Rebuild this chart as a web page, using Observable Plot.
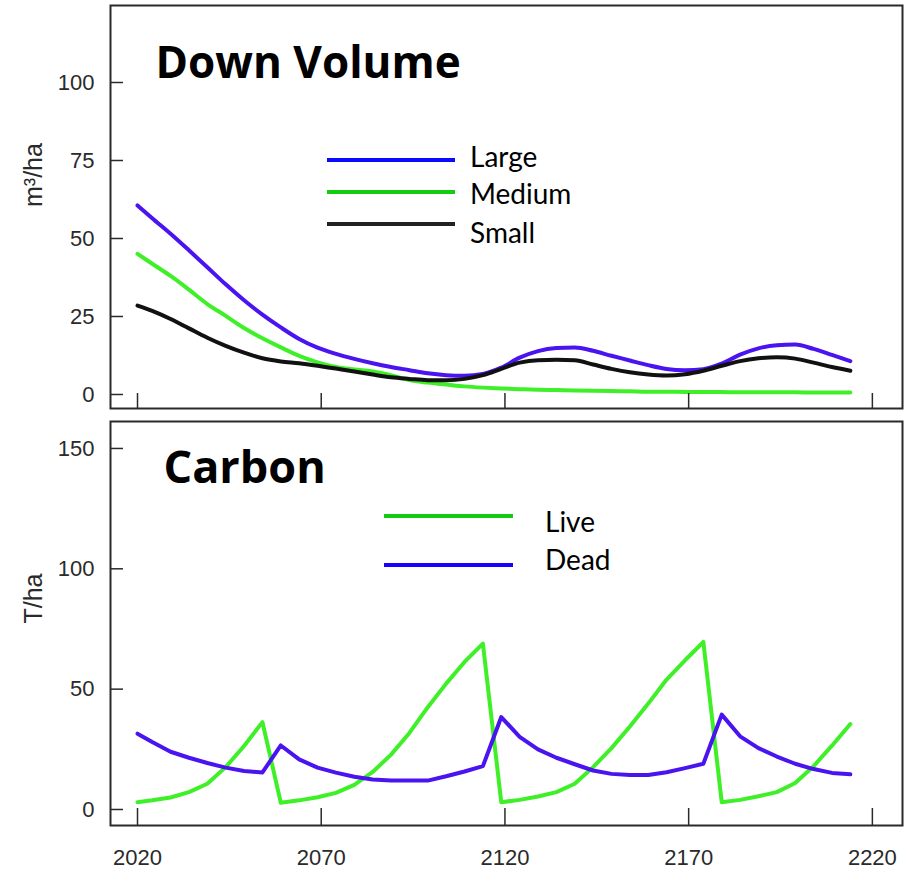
<!DOCTYPE html>
<html><head><meta charset="utf-8">
<script src="https://cdn.jsdelivr.net/npm/d3@7"></script>
<script src="https://cdn.jsdelivr.net/npm/@observablehq/plot@0.6"></script>
<style>
body{margin:0;background:#fff;}
#wrap{position:relative;width:912px;height:873px;overflow:hidden;background:#fff;}
#top{position:absolute;left:0;top:0;}
#bot{position:absolute;left:0;top:410px;}
#sep{position:absolute;left:108px;top:410px;width:796px;height:1px;background:#bbb;}
</style></head><body><div id="wrap"><div id="top"></div><div id="sep"></div><div id="bot"></div></div>
<script>
// ---------- data ----------
const years = [2020, 2024, 2029, 2034, 2039, 2044, 2049, 2054, 2059, 2064,
               2069, 2074, 2079, 2084, 2089, 2094, 2099, 2104, 2109, 2114,
               2119, 2124, 2129, 2134, 2139, 2144, 2149, 2154, 2159, 2164,
               2169, 2174, 2179, 2184, 2189, 2194, 2199, 2204, 2209, 2214];
const largeVol  = [60.6, 56.5, 51.5, 46.2, 40.8, 35.3, 30.2, 25.6, 21.5, 17.8,
                   15.0, 13.0, 11.4, 10.0, 8.8, 7.8, 6.8, 6.2, 6.0, 6.6,
                   8.6, 11.8, 13.9, 14.9, 15.1, 14.0, 12.4, 10.9, 9.4, 8.2,
                   7.8, 8.1, 9.9, 12.8, 14.8, 15.8, 16.0, 14.6, 12.7, 10.7];
const mediumVol = [45.1, 41.9, 38.0, 33.6, 29.0, 25.2, 21.3, 18.0, 15.1, 12.4,
                   10.3, 8.8, 8.0, 7.4, 6.2, 4.6, 3.8, 3.2, 2.6, 2.2,
                   1.9, 1.7, 1.5, 1.4, 1.3, 1.2, 1.1, 1.0, 0.9, 0.9,
                   0.8, 0.8, 0.8, 0.7, 0.7, 0.7, 0.7, 0.6, 0.6, 0.6];
const smallVol  = [28.5, 26.8, 24.2, 21.2, 18.2, 15.6, 13.4, 11.6, 10.6, 10.0,
                   9.2, 8.3, 7.4, 6.4, 5.5, 5.0, 4.6, 4.6, 5.0, 6.2,
                   8.2, 10.2, 11.0, 11.1, 11.0, 9.6, 8.2, 7.1, 6.4, 6.1,
                   6.5, 7.6, 9.2, 10.7, 11.6, 11.9, 11.5, 10.2, 8.8, 7.6];
const liveC = [3.0, 3.8, 5.0, 7.2, 10.7, 17.6, 26.4, 36.3, 2.8, 3.8,
               5.1, 6.9, 10.2, 15.6, 22.8, 31.8, 42.5, 52.3, 61.3, 68.9,
               3.0, 4.0, 5.4, 7.2, 10.7, 17.6, 25.5, 34.5, 44.0, 54.0,
               62.0, 69.6, 3.0, 4.0, 5.5, 7.2, 11.0, 18.0, 26.5, 35.5];
const deadC = [31.5, 28.0, 24.0, 21.5, 19.3, 17.4, 16.0, 15.4, 26.6, 20.8,
               17.4, 15.3, 13.6, 12.5, 12.0, 12.0, 12.0, 13.8, 15.8, 18.0,
               38.4, 30.2, 25.0, 21.5, 18.8, 16.2, 14.8, 14.3, 14.3, 15.5,
               17.2, 19.0, 39.4, 30.4, 25.5, 22.0, 19.0, 16.8, 15.2, 14.6];
const xTicks = [2020, 2070, 2120, 2170, 2220];
const volTicks = [0, 25, 50, 75, 100];
const carbonTicks = [0, 50, 100, 150];
const volSeries = ["Large", "Medium", "Small"];
const carbonSeries = ["Live", "Dead"];
const volTitle = "Down Volume";
const carbonTitle = "Carbon";
const volLabel = "m³/ha";
const carbonLabel = "T/ha";

// ---------- styles ----------
const volLineColors = ["#4a14f0", "#3ff028", "#111111"];
const volLegendColors = ["#0a0aff", "#11cc11", "#222222"];
const carbonLineColors = ["#3ff028", "#4a14f0"];
const carbonLegendColors = ["#11cc11", "#1a00ff"];
const ink = "#2a2a2a";
const tickFont = "'Liberation Sans', Arial, sans-serif";
const tickSizePx = 22;

const volData = [];
[largeVol, mediumVol, smallVol].forEach((arr, s) =>
  arr.forEach((v, i) => volData.push({series: volSeries[s], year: years[i], value: v})));
const carbonData = [];
[liveC, deadC].forEach((arr, s) =>
  arr.forEach((v, i) => carbonData.push({series: carbonSeries[s], year: years[i], value: v})));

const xDomain = [2012.65, 2228.2];

const topPlot = Plot.plot({
  width: 912, height: 410,
  marginLeft: 110, marginRight: 10, marginTop: 5, marginBottom: 2,
  x: {domain: xDomain},
  y: {domain: [-4.49, 124.68]},
  color: {domain: volSeries, range: volLineColors},
  style: {fontFamily: tickFont, fontSize: tickSizePx + "px", color: ink, background: "white", overflow: "visible"},
  marks: [
    Plot.line(volData, {x: "year", y: "value", z: "series", stroke: "series", strokeWidth: 4, curve: "monotone-x"}),
    Plot.frame({stroke: ink, strokeWidth: 2}),
    Plot.axisY(volTicks, {tickSize: 13, dx: 13, fill: "none", stroke: ink, strokeWidth: 1.5, label: null}),
    Plot.axisY(volTicks, {tickSize: 0, tickPadding: 16, fill: ink, fontSize: tickSizePx, label: null}),
    Plot.axisX(xTicks, {tickSize: 15, dy: -15, fill: "none", stroke: ink, strokeWidth: 1.5, label: null}),
    Plot.text([volLabel], {frameAnchor: "left", dx: -77, rotate: -90, fontSize: 25, fill: ink}),
    Plot.text([volTitle], {frameAnchor: "top-left", dx: 45, dy: 72, lineAnchor: "bottom", textAnchor: "start",
      fontSize: 44, fontWeight: "bold", fontFamily: "'Open Sans', sans-serif", fill: "#000"})
  ]
});
document.getElementById("top").append(topPlot);

const botPlot = Plot.plot({
  width: 912, height: 463,
  marginLeft: 110, marginRight: 10, marginTop: 11, marginBottom: 48,
  x: {domain: xDomain},
  y: {domain: [-6.65, 161.2]},
  color: {domain: carbonSeries, range: carbonLineColors},
  style: {fontFamily: tickFont, fontSize: tickSizePx + "px", color: ink, background: "white", overflow: "visible"},
  marks: [
    Plot.line(carbonData, {x: "year", y: "value", z: "series", stroke: "series", strokeWidth: 4, curve: "linear"}),
    Plot.frame({stroke: ink, strokeWidth: 2}),
    Plot.axisY(carbonTicks, {tickSize: 13, dx: 13, fill: "none", stroke: ink, strokeWidth: 1.5, label: null}),
    Plot.axisY(carbonTicks, {tickSize: 0, tickPadding: 16, fill: ink, fontSize: tickSizePx, label: null}),
    Plot.axisX(xTicks, {tickSize: 17, dy: -17, fill: "none", stroke: ink, strokeWidth: 1.5, label: null}),
    Plot.axisX(xTicks, {tickSize: 0, tickPadding: 24, fill: ink, fontSize: tickSizePx, label: null, tickFormat: d => String(d)}),
    Plot.text([carbonLabel], {frameAnchor: "left", dx: -77, rotate: -90, fontSize: 25, fill: ink}),
    Plot.text([carbonTitle], {frameAnchor: "top-left", dx: 53, dy: 61, lineAnchor: "bottom", textAnchor: "start",
      fontSize: 45, fontWeight: "bold", fontFamily: "'Open Sans', sans-serif", fill: "#000"})
  ]
});
document.getElementById("bot").append(botPlot);

// ---------- in-plot legends ----------
function legend(svgNode, names, colors, opts) {
  const g = d3.select(svgNode).append("g").attr("class", "legend").attr("text-anchor", "start");
  names.forEach((n, i) => {
    g.append("line")
      .attr("x1", opts.x1).attr("x2", opts.x2)
      .attr("y1", opts.lineY[i]).attr("y2", opts.lineY[i])
      .attr("stroke", colors[i]).attr("stroke-width", 4);
    g.append("text")
      .attr("x", opts.tx).attr("y", opts.textY[i])
      .attr("text-anchor", "start")
      .attr("font-family", "Lato, 'Open Sans', sans-serif")
      .attr("font-size", opts.fontSize)
      .attr("fill", "#000")
      .text(n);
  });
}
legend(topPlot, volSeries, volLegendColors,
  {x1: 327, x2: 455, lineY: [160, 192, 224], tx: 470, textY: [167, 204, 243], fontSize: 28});
legend(botPlot, carbonSeries, carbonLegendColors,
  {x1: 384, x2: 513, lineY: [106, 155], tx: 545, textY: [122, 160], fontSize: 28});
</script>
</body></html>
